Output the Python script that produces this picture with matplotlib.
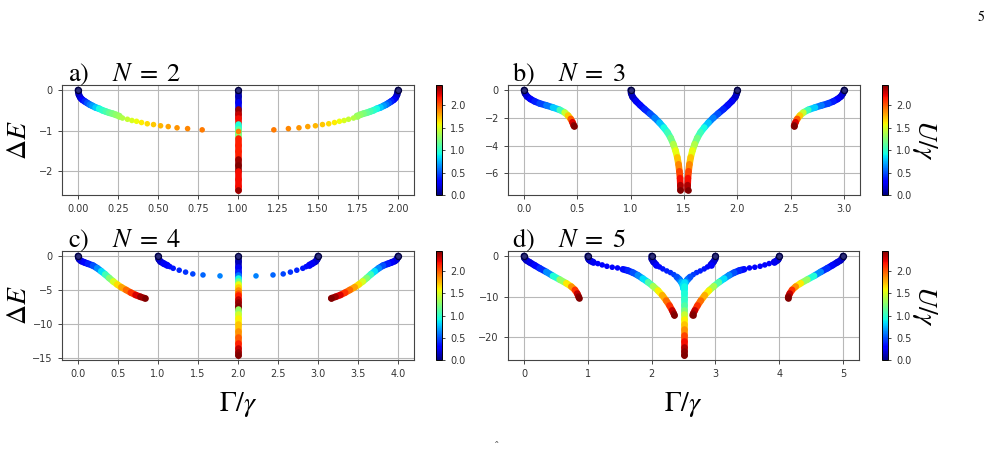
import matplotlib.pyplot as plt
import numpy as np
from matplotlib.collections import LineCollection
from matplotlib.colors import Normalize
from matplotlib.cm import ScalarMappable

plt.rcParams['mathtext.fontset'] = 'stix'

# colour scale U/gamma
u_max = 2.45

# ---------------- N = 2 ----------------
a_left_x = [0.0, 0.002, 0.006, 0.015, 0.027, 0.042, 0.058, 0.074, 0.09, 0.11, 0.132, 0.153, 0.174, 0.195, 0.215, 0.236, 0.257]
a_left_y = [0.0, -0.05, -0.12, -0.19, -0.24, -0.28, -0.32, -0.36, -0.39, -0.43, -0.46, -0.50, -0.53, -0.56, -0.58, -0.61, -0.64]
a_left_u = [0.0, 0.05, 0.12, 0.2, 0.3, 0.4, 0.5, 0.6, 0.68, 0.8, 0.92, 1.0, 1.08, 1.15, 1.22, 1.28, 1.33]
a_dot_x = [0.278, 0.309, 0.337, 0.366, 0.397, 0.433, 0.472, 0.516, 0.564, 0.619, 0.685, 0.776]
a_dot_y = [-0.69, -0.72, -0.75, -0.77, -0.80, -0.83, -0.85, -0.88, -0.90, -0.93, -0.95, -0.98]
a_dot_u = [1.38, 1.44, 1.5, 1.56, 1.61, 1.66, 1.71, 1.76, 1.8, 1.84, 1.88, 1.91]
a_mid_y = [0.0, -0.15, -0.3, -0.46, -0.58, -0.7, -0.83, -0.9, -0.97, -1.03, -1.1, -1.18, -1.35, -1.5, -1.7, -1.85, -1.99, -2.2, -2.35, -2.46]
a_mid_u = [0.02, 0.12, 0.25, 2.4, 2.3, 2.2, 0.95, 0.95, 1.15, 1.2, 1.25, 2.15, 2.15, 2.15, 2.4, 2.45, 2.2, 2.2, 2.2, 2.4]
a_center = [1.0, -1.0, 1.9]  # x, y, U of the lone dot on the middle line

# ---------------- N = 3 ----------------
b_side_x = [0.0, 0.009, 0.028, 0.06, 0.1, 0.147, 0.21, 0.272, 0.335, 0.381, 0.413, 0.438, 0.454, 0.466, 0.468]
b_side_y = [0.0, -0.24, -0.46, -0.65, -0.82, -0.97, -1.11, -1.26, -1.43, -1.62, -1.84, -2.08, -2.32, -2.54, -2.6]
b_side_u = [0.0, 0.1, 0.2, 0.3, 0.38, 0.47, 0.6, 0.8, 1.05, 1.45, 1.7, 2.0, 2.25, 2.4, 2.45]
b_mid_x = [1.0, 1.005, 1.018, 1.05, 1.09, 1.13, 1.18, 1.225, 1.27, 1.31, 1.345, 1.375, 1.4, 1.42, 1.437, 1.449, 1.457, 1.463, 1.466, 1.467]
b_mid_y = [0.0, -0.25, -0.5, -0.8, -1.1, -1.38, -1.7, -2.0, -2.35, -2.7, -3.05, -3.45, -3.9, -4.35, -4.85, -5.35, -5.85, -6.35, -6.85, -7.2]
b_mid_u = [0.0, 0.08, 0.16, 0.25, 0.33, 0.4, 0.5, 0.62, 0.78, 0.92, 1.05, 1.2, 1.38, 1.55, 1.72, 1.88, 2.05, 2.2, 2.35, 2.45]

# ---------------- N = 4 ----------------
c_side_x = [0.0, 0.005, 0.015, 0.04, 0.08, 0.125, 0.1875, 0.24, 0.29, 0.34, 0.39, 0.44, 0.49, 0.54, 0.6, 0.66, 0.72, 0.78, 0.834]
c_side_y = [0.0, -0.25, -0.5, -0.75, -0.95, -1.15, -1.42, -1.8, -2.25, -2.72, -3.25, -3.75, -4.2, -4.6, -5.0, -5.4, -5.75, -6.02, -6.23]
c_side_u = [0.0, 0.08, 0.15, 0.22, 0.3, 0.38, 0.5, 0.65, 0.85, 1.05, 1.25, 1.5, 1.65, 1.8, 1.95, 2.1, 2.25, 2.38, 2.45]
c_in_x = [1.0, 1.009, 1.03, 1.071, 1.11]
c_in_y = [0.0, -0.48, -0.82, -1.12, -1.35]
c_in_u = [0.0, 0.1, 0.18, 0.25, 0.3]
c_dot_x = [1.15, 1.19, 1.265, 1.345, 1.435, 1.5625, 1.775]
c_dot_y = [-1.58, -1.82, -2.1, -2.38, -2.65, -2.8, -2.94]
c_dot_u = [0.33, 0.36, 0.4, 0.43, 0.47, 0.55, 0.62]
c_mid_y = [0.0, -0.8, -1.6, -2.4, -2.8, -3.3, -3.75, -4.2, -4.6, -5.0, -5.4, -5.8, -6.3, -6.8, -7.3, -7.7,
           -7.8, -8.5, -9.2, -10.0, -11.0, -12.0, -12.8, -13.6, -14.2, -14.6]
c_mid_u = [0.0, 0.12, 0.25, 0.4, 0.6, 0.92, 1.2, 1.55, 1.7, 1.85, 2.0, 2.15, 2.3, 2.4, 2.45, 2.45,
           1.3, 1.48, 1.6, 1.72, 1.85, 2.0, 2.15, 2.3, 2.4, 2.45]

# ---------------- N = 5 ----------------
d_side_x = [0.0, 0.006, 0.037, 0.089, 0.167, 0.246, 0.35, 0.454, 0.559, 0.663, 0.741, 0.798, 0.835, 0.856, 0.861]
d_side_y = [0.0, -0.49, -1.06, -1.56, -2.3, -3.03, -3.93, -4.91, -5.81, -6.72, -7.53, -8.35, -9.25, -10.0, -10.3]
d_side_u = [0.0, 0.08, 0.15, 0.22, 0.32, 0.42, 0.65, 0.95, 1.3, 1.62, 1.85, 2.1, 2.3, 2.42, 2.45]
d_in_x = [1.0, 1.004, 1.017, 1.045, 1.08]
d_in_y = [0.0, -0.45, -0.9, -1.25, -1.47]
d_in_u = [0.0, 0.08, 0.15, 0.2, 0.24]
d_dot_x = [1.158, 1.226, 1.30, 1.383, 1.466]
d_dot_y = [-1.88, -2.21, -2.54, -2.78, -2.95]
d_dot_u = [0.27, 0.28, 0.29, 0.3, 0.31]
d_out_x = [1.55, 1.628, 1.706, 1.784, 1.862, 1.945, 2.023, 2.1, 2.166, 2.228, 2.28, 2.322, 2.348, 2.358]
d_out_y = [-3.28, -3.6, -4.1, -4.75, -5.57, -6.47, -7.45, -8.52, -9.66, -10.97, -12.2, -13.4, -14.2, -14.6]
d_out_u = [0.33, 0.4, 0.5, 0.65, 0.85, 1.1, 1.35, 1.6, 1.78, 1.95, 2.1, 2.3, 2.4, 2.45]
d_top_x = [2.0, 2.003, 2.03, 2.072]
d_top_y = [0.0, -0.74, -1.47, -2.13]
d_top_u = [0.0, 0.1, 0.2, 0.27]
d_bead_x = [2.124, 2.176, 2.238, 2.296, 2.348, 2.394]
d_bead_y = [-2.7, -3.19, -3.69, -4.1, -4.59, -5.16]
d_bead_u = [0.32, 0.35, 0.38, 0.41, 0.45, 0.5]
d_join_x = [2.394, 2.437, 2.468, 2.49, 2.5]
d_join_y = [-5.16, -5.81, -6.5, -7.2, -8.0]
d_join_u = [0.5, 0.6, 0.75, 0.85, 0.9]
d_stem_y = [-6.3, -7.5, -9.0, -10.5, -12.0, -13.2, -14.3, -15.5, -16.8, -18.0, -19.5, -21.0, -22.3, -23.5, -24.4]
d_stem_u = [0.85, 0.9, 0.95, 1.0, 1.1, 1.25, 1.45, 1.6, 1.72, 1.85, 2.05, 2.2, 2.35, 2.42, 2.45]

a_xticks = [0, 0.25, 0.5, 0.75, 1.0, 1.25, 1.5, 1.75, 2.0]
a_yticks = [0, -1, -2]
b_xticks = [0, 0.5, 1.0, 1.5, 2.0, 2.5, 3.0]
b_yticks = [0, -2, -4, -6]
c_xticks = [0, 0.5, 1.0, 1.5, 2.0, 2.5, 3.0, 3.5, 4.0]
c_yticks = [0, -5, -10, -15]
d_xticks = [0, 1, 2, 3, 4, 5]
d_yticks = [0, -10, -20]

norm = Normalize(vmin=0, vmax=u_max)
cmap = plt.get_cmap('jet')


def curve(ax, x, y, u):
    pts = np.column_stack([x, y])
    segs = np.stack([pts[:-1], pts[1:]], axis=1)
    lc = LineCollection(segs, cmap=cmap, norm=norm, linewidths=4.8, capstyle='round', zorder=3)
    lc.set_array(np.asarray(u[:-1], dtype=float))
    ax.add_collection(lc)
    ax.scatter([x[-1]], [y[-1]], c=[u[-1]], cmap=cmap, norm=norm, s=23, linewidths=0, zorder=3)
    if y[0] == 0:
        # branch start at Delta E = 0 is drawn as a ring
        ax.scatter([x[0]], [y[0]], s=19, facecolors='#2c2c78', edgecolors='#00003c',
                   linewidths=0.9, zorder=4)


def dots(ax, x, y, u):
    ax.scatter(x, y, c=u, cmap=cmap, norm=norm, s=16, linewidths=0, zorder=3)


def flip(xs, n):
    return [n - v for v in xs]


fig = plt.figure(figsize=(9.94, 4.5), dpi=100)

W, H = 994.0, 450.0
def rect(l, t, r, b):
    return [l / W, 1 - b / H, (r - l) / W, (b - t) / H]

ax_a = fig.add_axes(rect(62, 85, 414, 195))
ax_b = fig.add_axes(rect(508, 85, 860, 195))
ax_c = fig.add_axes(rect(62, 251, 414, 360))
ax_d = fig.add_axes(rect(508, 251, 859, 360))
cax = [fig.add_axes(rect(436, 85, 442, 195)), fig.add_axes(rect(882, 85, 888, 195)),
       fig.add_axes(rect(436, 251, 442, 360)), fig.add_axes(rect(882, 251, 888, 360))]

# N = 2
curve(ax_a, a_left_x, a_left_y, a_left_u)
curve(ax_a, flip(a_left_x, 2), a_left_y, a_left_u)
dots(ax_a, a_dot_x, a_dot_y, a_dot_u)
dots(ax_a, flip(a_dot_x, 2), a_dot_y, a_dot_u)
curve(ax_a, [1.0] * len(a_mid_y), a_mid_y, a_mid_u)
dots(ax_a, [a_center[0]], [a_center[1]], [a_center[2]])

# N = 3
curve(ax_b, b_side_x, b_side_y, b_side_u)
curve(ax_b, flip(b_side_x, 3), b_side_y, b_side_u)
curve(ax_b, b_mid_x, b_mid_y, b_mid_u)
curve(ax_b, flip(b_mid_x, 3), b_mid_y, b_mid_u)

# N = 4
curve(ax_c, c_side_x, c_side_y, c_side_u)
curve(ax_c, flip(c_side_x, 4), c_side_y, c_side_u)
curve(ax_c, c_in_x, c_in_y, c_in_u)
curve(ax_c, flip(c_in_x, 4), c_in_y, c_in_u)
dots(ax_c, c_dot_x, c_dot_y, c_dot_u)
dots(ax_c, flip(c_dot_x, 4), c_dot_y, c_dot_u)
curve(ax_c, [2.0] * len(c_mid_y), c_mid_y, c_mid_u)

# N = 5
curve(ax_d, d_side_x, d_side_y, d_side_u)
curve(ax_d, flip(d_side_x, 5), d_side_y, d_side_u)
for xs, ys, us in [(d_in_x, d_in_y, d_in_u), (d_out_x, d_out_y, d_out_u),
                   (d_top_x, d_top_y, d_top_u), (d_join_x, d_join_y, d_join_u)]:
    curve(ax_d, xs, ys, us)
    curve(ax_d, flip(xs, 5), ys, us)
for xs, ys, us in [(d_dot_x, d_dot_y, d_dot_u), (d_bead_x, d_bead_y, d_bead_u)]:
    dots(ax_d, xs, ys, us)
    dots(ax_d, flip(xs, 5), ys, us)
curve(ax_d, [2.5] * len(d_stem_y), d_stem_y, d_stem_u)

panels = [(ax_a, 'a)', 2, a_xticks, a_yticks), (ax_b, 'b)', 3, b_xticks, b_yticks),
          (ax_c, 'c)', 4, c_xticks, c_yticks), (ax_d, 'd)', 5, d_xticks, d_yticks)]
for i, (ax, tag, n, xt, yt) in enumerate(panels):
    ax.autoscale_view()
    ax.set_xticks(xt)
    ax.set_yticks(yt)
    if n == 2:
        ax.set_xticklabels(['%.2f' % v for v in xt])
    elif n in (3, 4):
        ax.set_xticklabels(['%.1f' % v for v in xt])
    ax.grid(True, color='#b8b8b8', lw=0.8)
    ax.set_axisbelow(True)
    ax.tick_params(labelsize=7, length=3, width=0.7, colors='#444444', labelcolor='#333333')
    for s in ax.spines.values():
        s.set_color('#444444')
        s.set_linewidth(0.8)
    tx = 0.017 if i % 2 == 0 else 0.01
    ax.text(tx, 1.035, tag + r'$\quad\;N\;=\;%d$' % n, transform=ax.transAxes,
            fontsize=19, family='STIXGeneral', va='baseline')
    if i % 2 == 0:
        ax.set_ylabel(r'$\Delta E$', fontsize=20)
        ax.yaxis.set_label_coords(-0.085, 0.5)
    if i >= 2:
        ax.set_xlabel(r'$\Gamma/\gamma$', fontsize=20, labelpad=8)

    cb = fig.colorbar(ScalarMappable(norm=norm, cmap=cmap), cax=cax[i])
    cb.set_ticks([0, 0.5, 1.0, 1.5, 2.0])
    cb.ax.tick_params(labelsize=7, length=2.5, width=0.7, colors='#444444', labelcolor='#333333')
    cb.outline.set_linewidth(0.7)
    if i % 2 == 1:
        cb.set_label(r'$U/\gamma$', fontsize=20, rotation=270, labelpad=20)

fig.text(981 / W, 1 - 17 / H, '5', ha='center', va='center', fontsize=10, family='STIXGeneral')
fig.text(0.5, -0.004, '\u02c6', ha='center', va='bottom', fontsize=8, color='#555555')

fig.savefig('out.png', dpi=100)
